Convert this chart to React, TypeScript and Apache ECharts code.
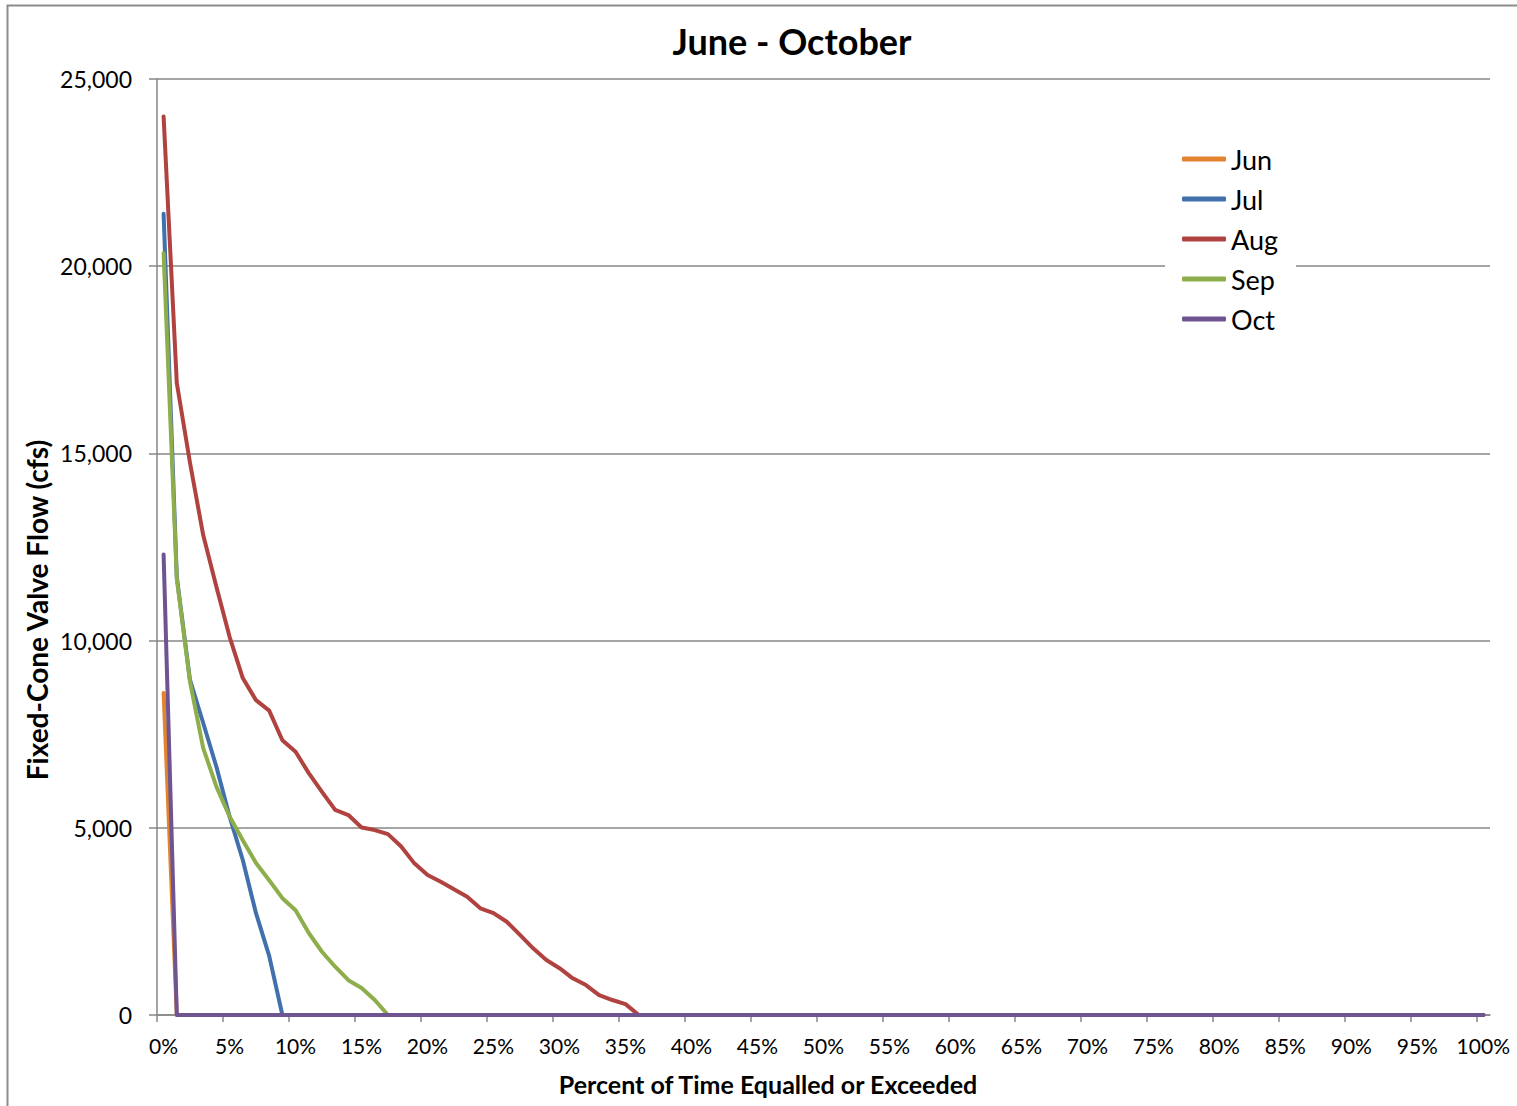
import React, { useEffect, useRef } from "react";
import * as echarts from "echarts";

// ---- data (percent of time, flow in cfs) ----
const seriesNames = ["Jun", "Jul", "Aug", "Sep", "Oct"];

const junPct = [0.5, 1.5, 100.5];
const junFlow = [8600, 0, 0];

const julPct = [0.5, 1.5, 2.5, 3.5, 4.5, 5.5, 6.5, 7.5, 8.5, 9.5, 100.5];
const julFlow = [21400, 11700, 8950, 7800, 6630, 5300, 4140, 2720, 1580, 0, 0];

const augPct = [
  0.5, 1.5, 2.5, 3.5, 4.5, 5.5, 6.5, 7.5, 8.5, 9.5, 10.5, 11.5, 12.5, 13.5, 14.5,
  15.5, 16.5, 17.5, 18.5, 19.5, 20.5, 21.5, 22.5, 23.5, 24.5, 25.5, 26.5, 27.5,
  28.5, 29.5, 30.5, 31.5, 32.5, 33.5, 34.5, 35.5, 36.5, 100.5,
];
const augFlow = [
  24000, 16880, 14750, 12820, 11440, 10100, 9000, 8410, 8130, 7340, 7030, 6460,
  5960, 5480, 5340, 5010, 4940, 4830, 4500, 4050, 3740, 3560, 3360, 3160, 2850,
  2720, 2490, 2140, 1780, 1470, 1250, 980, 800, 530, 400, 290, 0, 0,
];

const sepPct = [
  0.5, 1.5, 2.5, 3.5, 4.5, 5.5, 6.5, 7.5, 8.5, 9.5, 10.5, 11.5, 12.5, 13.5, 14.5,
  15.5, 16.5, 17.5, 100.5,
];
const sepFlow = [
  20350, 11650, 8900, 7130, 6100, 5300, 4670, 4060, 3600, 3120, 2800, 2190, 1690,
  1290, 930, 720, 400, 0, 0,
];

const octPct = [0.5, 1.5, 100.5];
const octFlow = [12300, 0, 0];

const xTickValues = [
  0, 5, 10, 15, 20, 25, 30, 35, 40, 45, 50, 55, 60, 65, 70, 75, 80, 85, 90, 95, 100,
];

const colors = ["#E2832F", "#4170AD", "#B0423F", "#8EAD4B", "#6E5490"];

const FONT = "Lato, 'Open Sans', sans-serif";
const GRAY = "#878787";

function pairs(xs: number[], ys: number[]) {
  return xs.map((x, i) => [x, ys[i]]);
}

export default function App() {
  const ref = useRef<HTMLDivElement>(null);

  useEffect(() => {
    if (!ref.current) return;
    const chart = echarts.init(ref.current, null, { renderer: "svg" });
    const allData = [
      pairs(junPct, junFlow),
      pairs(julPct, julFlow),
      pairs(augPct, augFlow),
      pairs(sepPct, sepFlow),
      pairs(octPct, octFlow),
    ];
    chart.setOption({
      animation: false,
      backgroundColor: "#ffffff",
      grid: { left: 157, top: 79, right: 27, bottom: 91, containLabel: false },
      xAxis: {
        type: "value",
        min: 0,
        max: 101,
        interval: 5,
        axisLine: { show: true, lineStyle: { color: GRAY, width: 1.5 } },
        axisTick: {
          show: true,
          customValues: xTickValues,
          length: 7,
          lineStyle: { color: GRAY, width: 1.5 },
        },
        axisLabel: {
          customValues: xTickValues,
          formatter: (v: number) => `${v}%`,
          fontFamily: FONT,
          fontSize: 21,
          color: "#000",
          margin: 20,
          padding: [0, 0, 0, 13],
        },
        splitLine: { show: false },
      },
      yAxis: {
        type: "value",
        min: 0,
        max: 25000,
        interval: 5000,
        axisLine: { show: true, lineStyle: { color: GRAY, width: 1.5 } },
        axisTick: { show: true, length: 8, lineStyle: { color: GRAY, width: 1.5 } },
        axisLabel: {
          formatter: (v: number) => v.toLocaleString("en-US"),
          fontFamily: FONT,
          fontSize: 23,
          color: "#000",
          margin: 25,
        },
        splitLine: { show: true, lineStyle: { color: GRAY, width: 1.5 } },
      },
      legend: {
        orient: "vertical",
        left: 1165,
        top: 134,
        padding: [10, 18, 10, 17],
        backgroundColor: "#ffffff",
        itemWidth: 44,
        itemHeight: 5,
        itemGap: 10,
        icon: "roundRect",
        textStyle: { fontFamily: FONT, fontSize: 27, color: "#000", lineHeight: 30 },
        data: seriesNames,
      },
      series: seriesNames.map((name, i) => ({
        name,
        type: "line",
        data: allData[i],
        showSymbol: false,
        symbol: "none",
        color: colors[i],
        lineStyle: { width: 4, color: colors[i], cap: "round", join: "round" },
        z: 2 + i,
      })),
      graphic: [
        {
          type: "rect",
          shape: { x: 7.5, y: 5.5, width: 1540, height: 1140 },
          style: { fill: "none", stroke: "#8c8c8c", lineWidth: 2 },
          silent: true,
        },
        {
          type: "text",
          x: 792,
          y: 41,
          style: {
            text: "June - October",
            fontFamily: FONT,
            fontWeight: "bold",
            fontSize: 36,
            fill: "#000",
            align: "center",
            verticalAlign: "middle",
          },
        },
        {
          type: "text",
          x: 768,
          y: 1084,
          style: {
            text: "Percent of Time Equalled or Exceeded",
            fontFamily: FONT,
            fontWeight: "bold",
            fontSize: 25,
            fill: "#000",
            align: "center",
            verticalAlign: "middle",
          },
        },
        {
          type: "text",
          x: 37,
          y: 610,
          rotation: Math.PI / 2,
          style: {
            text: "Fixed-Cone Valve Flow (cfs)",
            fontFamily: FONT,
            fontWeight: "bold",
            fontSize: 28,
            fill: "#000",
            align: "center",
            verticalAlign: "middle",
          },
        },
      ],
    });
    return () => chart.dispose();
  }, []);

  return (
    <div
      ref={ref}
      style={{ position: "absolute", left: 0, top: 0, width: 1517, height: 1106 }}
    />
  );
}
